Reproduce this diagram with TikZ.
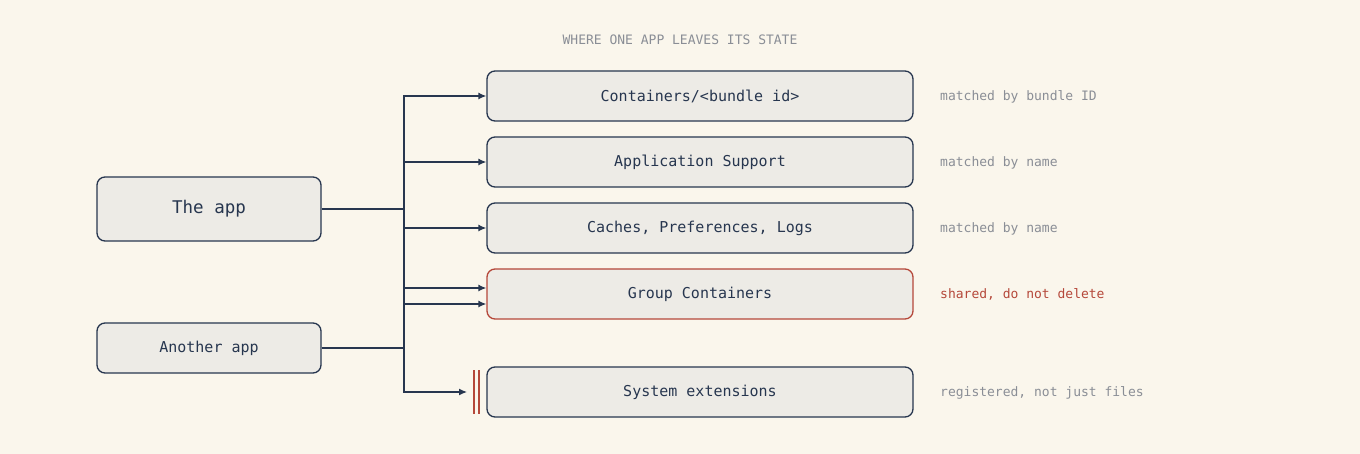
\documentclass[tikz,border=0pt]{standalone}
\usepackage{fontspec}
\setmonofont{DejaVu Sans Mono}
\usetikzlibrary{arrows.meta}
\definecolor{bg}{HTML}{FAF6EC}
\definecolor{boxfill}{HTML}{EDEBE6}
\definecolor{navy}{HTML}{27364F}
\definecolor{warn}{HTML}{B5483A}
\definecolor{muted}{HTML}{8A8E96}
\begin{document}
\begin{tikzpicture}[x=1pt,y=-1pt,
  box/.style={draw=navy,fill=boxfill,line width=1.3pt,rounded corners=8pt,
    minimum width=426pt,minimum height=50pt,inner sep=0pt,
    font=\ttfamily\fontsize{15}{18}\selectfont,text=navy},
  appbox/.style={box,minimum width=224pt},
  note/.style={anchor=base west,font=\ttfamily\fontsize{13}{16}\selectfont,text=muted,inner sep=0pt},
  conn/.style={draw=navy,line width=1.3pt},
  arr/.style={conn,-{Latex[length=8pt,width=7pt]}}]
\fill[bg] (0,0) rectangle (1360,454);
\useasboundingbox (0,0) rectangle (1360,454);
\node[font=\ttfamily\fontsize{13}{15}\selectfont,text=muted] (title) at (680,40) {WHERE ONE APP LEAVES ITS STATE};
\node[appbox,minimum height=64pt,font=\ttfamily\fontsize{17.5}{20}\selectfont] (app) at (209,209) {The app};
\node[appbox] (other) at (209,348) {Another app};
\node[box] (c1) at (700,96) {Containers/<bundle id>};
\node[box] (c2) at (700,162) {Application Support};
\node[box] (c3) at (700,228) {Caches, Preferences, Logs};
\node[box,draw=warn] (gc) at (700,294) {Group Containers};
\node[box] (se) at (700,392) {System extensions};
\node[note] (n1) at (940,100.5) {matched by bundle ID};
\node[note] (n2) at (940,166.5) {matched by name};
\node[note] (n3) at (940,232.5) {matched by name};
\node[note,text=warn] (n4) at (940,298.5) {shared, do not delete};
\node[note] (n5) at (940,396.5) {registered, not just files};
\coordinate (j1) at (404,209);
\coordinate (j2) at (404,348);
\coordinate (sein) at (467,392);
\draw[conn] (app.east) -- (j1);
\draw[arr] (j1) |- (c1.west);
\draw[arr] (j1) |- (c2.west);
\draw[arr] (j1) |- (c3.west);
\draw[arr] (j1) |- ([yshift=6pt]gc.west);
\draw[conn] (j1) -- (j2);
\draw[conn] (other.east) -- (j2);
\draw[arr] (j2) |- ([yshift=-10pt]gc.west);
\draw[arr] (j2) |- (sein);
\draw[draw=warn,line width=2pt] (474,370) -- (474,414) (479,370) -- (479,414);
\end{tikzpicture}
\end{document}
